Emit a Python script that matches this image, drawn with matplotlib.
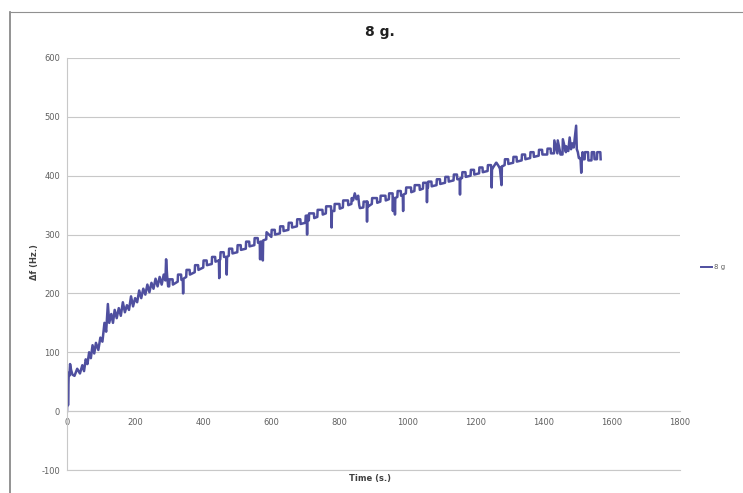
# Frequency shift vs time, 8 g load

import matplotlib
matplotlib.use("Agg")
import matplotlib.pyplot as plt
from matplotlib.lines import Line2D

plt.rcParams["axes.unicode_minus"] = False

# data (time in s, delta f in Hz)
t_start = [0, 2, 3, 5, 7, 9, 12, 16, 22, 30,
           38, 45, 50, 55, 60, 65, 70, 75, 80, 85,
           92, 98, 104, 110, 115, 120, 124, 130, 135, 140,
           146, 152, 158, 164, 170, 176, 182, 188, 194, 200,
           206, 212, 218, 224, 230, 236, 242, 248, 254, 260,
           266, 272, 278, 284, 289, 291, 294, 297]
f_start = [0, 55, 10, 65, 60, 80, 70, 62, 60, 72,
           64, 78, 68, 88, 80, 100, 90, 112, 98, 116,
           104, 125, 118, 150, 135, 182, 150, 165, 150, 172,
           158, 175, 162, 185, 168, 180, 172, 195, 178, 192,
           185, 205, 192, 208, 198, 215, 202, 218, 208, 225,
           212, 228, 215, 232, 222, 258, 230, 212]

t_a = [300, 301, 310, 311, 325, 326, 335, 336, 340, 341, 342, 350, 351, 360, 361, 375,
       376, 385, 386, 400, 401, 410, 411, 425, 426, 435, 436, 446, 447, 448, 450, 451]
f_a = [212, 224, 224, 215, 220, 232, 232, 223, 223, 200, 225, 228, 240, 240, 232, 236,
       248, 248, 240, 244, 256, 256, 248, 250, 262, 262, 254, 256, 226, 256, 258, 270]

t_b = [460, 461, 468, 469, 470, 475, 476, 485, 486, 500, 501, 510, 511, 525, 526, 535, 536,
       550, 551, 560, 561, 566, 567, 568, 574, 575, 576, 585, 586, 600, 601, 610, 611]
f_b = [270, 262, 262, 232, 262, 264, 276, 276, 268, 270, 282, 282, 274, 276, 288, 288, 280,
       282, 294, 294, 286, 286, 258, 288, 288, 256, 290, 292, 304, 296, 308, 308, 300]

t_c = [625, 626, 635, 636, 650, 651, 660, 661, 675, 676, 685, 686, 700, 701, 704, 705,
       706, 710, 711, 725, 726, 735, 736, 750, 751, 760, 761, 775, 776, 777, 778, 785,
       786, 800, 801, 810, 811, 825, 826, 835, 836, 840, 845, 850, 855, 858, 860]
f_c = [302, 314, 314, 306, 308, 320, 320, 312, 314, 326, 326, 318, 320, 332, 332, 300,
       332, 324, 336, 336, 328, 330, 342, 342, 334, 336, 348, 348, 338, 312, 340, 340,
       352, 352, 344, 346, 358, 358, 350, 352, 362, 358, 370, 360, 366, 350, 345]

t_d = [870, 871, 880, 881, 882, 884, 885, 895, 896, 910, 911, 920, 921, 935, 936,
       945, 946, 956, 957, 958, 962, 963, 964, 970, 971, 980, 981, 986, 987, 988,
       995, 996, 1010, 1011, 1020, 1021, 1035, 1036, 1045, 1046, 1056, 1057, 1058, 1060, 1061]
f_d = [346, 356, 356, 322, 356, 348, 348, 352, 362, 362, 354, 356, 366, 366, 358,
       360, 370, 370, 340, 362, 362, 334, 362, 364, 374, 374, 366, 366, 340, 368,
       370, 380, 380, 372, 374, 384, 384, 376, 378, 388, 388, 355, 380, 380, 390]

t_e = [1070, 1071, 1085, 1086, 1095, 1096, 1110, 1111, 1120, 1121, 1135, 1136, 1145, 1146,
       1153, 1154, 1155, 1160, 1161, 1170, 1171, 1185, 1186, 1195, 1196, 1210, 1211, 1220,
       1221, 1235, 1236, 1245, 1246, 1247, 1248, 1249, 1260, 1261, 1270, 1271, 1276, 1277, 1278]
f_e = [390, 382, 384, 394, 394, 386, 388, 398, 398, 390, 392, 402, 402, 394,
       394, 368, 396, 396, 406, 406, 398, 400, 410, 410, 402, 404, 414, 414,
       406, 408, 418, 418, 410, 380, 412, 412, 422, 422, 414, 414, 384, 416, 416]

t_f = [1285, 1286, 1295, 1296, 1310, 1311, 1320, 1321, 1335, 1336, 1345, 1346, 1360, 1361,
       1370, 1371, 1385, 1386, 1395, 1396, 1410, 1411, 1420, 1421, 1430, 1431, 1440, 1441,
       1448, 1449, 1455, 1456, 1465, 1466, 1472, 1476, 1480, 1484, 1488, 1492, 1495, 1497,
       1500, 1503, 1505, 1508, 1510, 1512, 1514, 1516, 1520, 1521, 1530, 1531, 1540, 1541,
       1548, 1549, 1556, 1557, 1566, 1567]
f_f = [418, 428, 428, 420, 422, 432, 432, 424, 426, 436, 436, 428, 430, 440,
       440, 432, 434, 444, 444, 436, 436, 446, 446, 438, 438, 460, 438, 460,
       440, 436, 436, 462, 440, 450, 442, 465, 445, 455, 448, 470, 485, 445,
       440, 430, 430, 428, 405, 430, 440, 428, 428, 440, 440, 426, 426, 440,
       440, 428, 428, 440, 440, 428]

time_s = t_start + t_a + t_b + t_c + t_d + t_e + t_f
delta_f = f_start + f_a + f_b + f_c + f_d + f_e + f_f

x_ticks = [0, 200, 400, 600, 800, 1000, 1200, 1400, 1600, 1800]
y_ticks = [-100, 0, 100, 200, 300, 400, 500, 600]

line_color = "#4F4F9F"
grid_color = "#c8c8c8"
label_color = "#606060"

fig = plt.figure(figsize=(7.43, 4.93), dpi=100)
ax = fig.add_axes([67 / 743, 1 - 470 / 493, (680 - 67) / 743, (470 - 58) / 493])

ax.plot(time_s, delta_f, color=line_color, lw=1.8, label="8 g")

ax.set_xlim(0, 1800)
ax.set_ylim(-100, 600)
ax.set_xticks(x_ticks)
ax.set_yticks(y_ticks)
ax.tick_params(axis="both", labelsize=6, colors=label_color, length=0, pad=5)
ax.yaxis.grid(True, color=grid_color, lw=0.8)
ax.axhline(-100, color=grid_color, lw=0.8, clip_on=False)
ax.set_axisbelow(True)

ax.spines["top"].set_visible(False)
ax.spines["right"].set_visible(False)
ax.spines["left"].set_color(grid_color)
ax.spines["bottom"].set_position(("data", 0))
ax.spines["bottom"].set_color(grid_color)

# x-axis title sits below the plot area, y title on the left
fig.text(370 / 743, 1 - 478 / 493, "Time (s.)", fontsize=6, fontweight="bold",
         color="#404040", ha="center", va="center")
fig.text(35 / 743, 1 - 262 / 493, "Δf (Hz.)", fontsize=6, fontweight="bold",
         color="#404040", rotation=90, ha="center", va="center")
fig.text(380 / 743, 1 - 32 / 493, "8 g.", fontsize=10, fontweight="bold",
         color="#202020", ha="center", va="center")

# legend outside on the right
fig.legend(handles=[Line2D([], [], color=line_color, lw=1.4)], labels=["8 g"],
           loc="center left", bbox_to_anchor=(695 / 743, 1 - 267 / 493),
           frameon=False, fontsize=5, handlelength=1.6, handletextpad=0.3,
           labelcolor=label_color)

# chart border from the scan
fig.add_artist(Line2D([10 / 743, 10 / 743], [0, 1 - 12 / 493], color="#808080", lw=1.2))
fig.add_artist(Line2D([10 / 743, 1], [1 - 12 / 493, 1 - 12 / 493], color="#909090", lw=0.8))

fig.savefig("out.png", dpi=100)
